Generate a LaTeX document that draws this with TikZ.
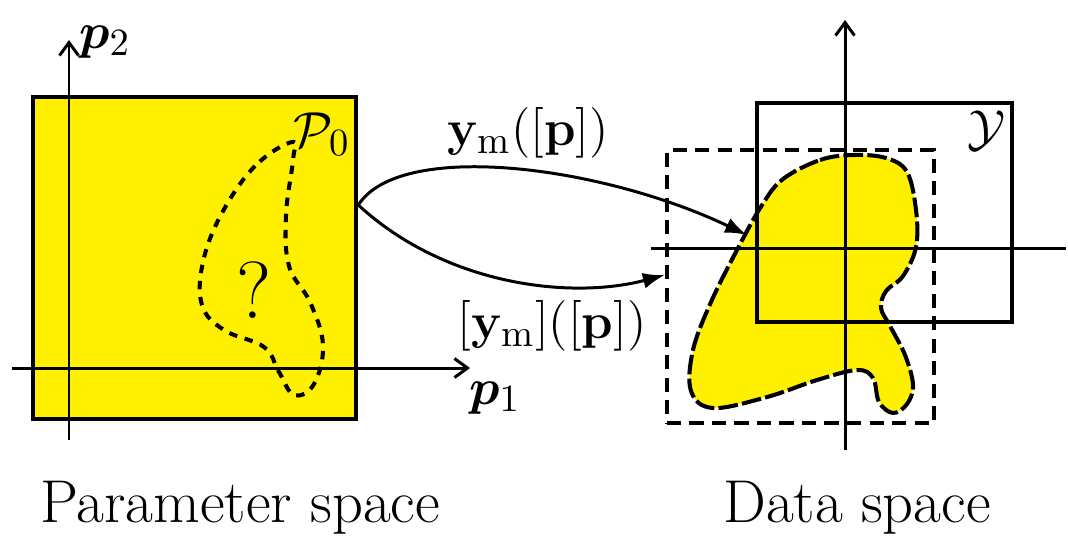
\documentclass[tikz,border=0pt]{standalone}
\usepackage{amsmath}
\usepackage{amssymb}
\usepackage{bm}
\usepackage{xcolor}
\definecolor{setyellow}{RGB}{255,240,0}
\usepackage{tikz}
\usetikzlibrary{arrows.meta, positioning}

\begin{document}
\begin{tikzpicture}[x=0.01cm, y=-0.01cm,
	font=\fontsize{15.5}{18}\selectfont,
	pbox/.style={rectangle, draw, line width=1.25pt, fill=setyellow,
	             minimum width=3.23cm, minimum height=3.22cm, inner sep=0pt},
	ybox/.style={rectangle, draw, line width=1.15pt,
	             minimum width=2.55cm, minimum height=2.19cm, inner sep=0pt},
	encl/.style={rectangle, draw, line width=1.15pt, dash pattern=on 4pt off 2.4pt,
	             minimum width=2.67cm, minimum height=2.73cm, inner sep=0pt},
	axis/.style={line width=0.85pt, -{Straight Barb[length=1.3mm, width=1.9mm]}},
	plainaxis/.style={line width=0.85pt},
	guess/.style={line width=1.15pt, dash pattern=on 2.4pt off 2.2pt},
	image/.style={line width=1.15pt, fill=setyellow, dash pattern=on 5.6pt off 1.2pt},
	arr/.style={line width=0.85pt, -{Latex[length=2.2mm, width=1.6mm]}}
	]
\useasboundingbox (0,0) rectangle (1068,538);

% parameter space
\node[pbox] (pspace) at (194.5,258) {};
\draw[guess] plot[smooth cycle, tension=0.65] coordinates {
  (292,142) (255,166) (222,213) (203,262) (202,305) (224,330) (264,347)
  (279,372) (294,395) (314,384) (323,345) (310,302) (289,266) (286,215) (293,160)};
\coordinate (p1tail) at (12,368);
\coordinate (p1tip) at (470,368);
\coordinate (p2tail) at (69,440);
\coordinate (p2tip) at (69,40);
\draw[axis] (p1tail) -- (p1tip);
\draw[axis] (p2tail) -- (p2tip);
\node (p1lab) at (495,398) {$\boldsymbol{p}_1$};
\node (p2lab) at (105,42) {$\boldsymbol{p}_2$};
\node (P0) at (322,134) {$\mathcal{P}_0$};
\node (quest) at (254,290) {\fontsize{23}{26}\selectfont ?};
\node (plab) at (240,508) {\fontsize{17.2}{21}\selectfont Parameter space};

% data space
\draw[image] plot[smooth cycle, tension=0.6] coordinates {
  (783,179) (820,160) (853,155) (886,158) (907,172) (916,210) (916,247)
  (903,276) (886,291) (881,308) (890,326) (905,355) (913,385) (907,404)
  (893,413) (879,402) (873,378) (857,370) (817,380) (767,397) (713,408)
  (691,391) (693,350) (711,302) (738,248) (762,205)};
\node[ybox] (yset) at (884.5,212.5) {};
\node[encl] (dbox) at (800.5,286.5) {};
\coordinate (h1) at (651,248);
\coordinate (h2) at (1066,248);
\coordinate (v1) at (845,450);
\coordinate (v2) at (845,20);
\draw[plainaxis] (h1) -- (h2);
\draw[axis] (v1) -- (v2);
\node (Ylab) at (986,131) {$\mathcal{Y}$};
\node (dlab) at (857,508) {\fontsize{17.2}{21}\selectfont Data space};

% mappings
\coordinate (src) at ([yshift=0.53cm]pspace.east);
\coordinate (hit) at (747,235);
\coordinate (hitbox) at ([yshift=0.115cm]dbox.west);
\draw[arr] (src) .. controls (400,140) and (600,165) .. (hit);
\draw[arr] (src) .. controls (445,285) and (570,300) .. (hitbox);
\node (ymap) at (528,133) {$\mathbf{y}_{\mathrm{m}}([\mathbf{p}])$};
\node (ybmap) at (552,326) {$[\mathbf{y}_{\mathrm{m}}]([\mathbf{p}])$};
\end{tikzpicture}
\end{document}
